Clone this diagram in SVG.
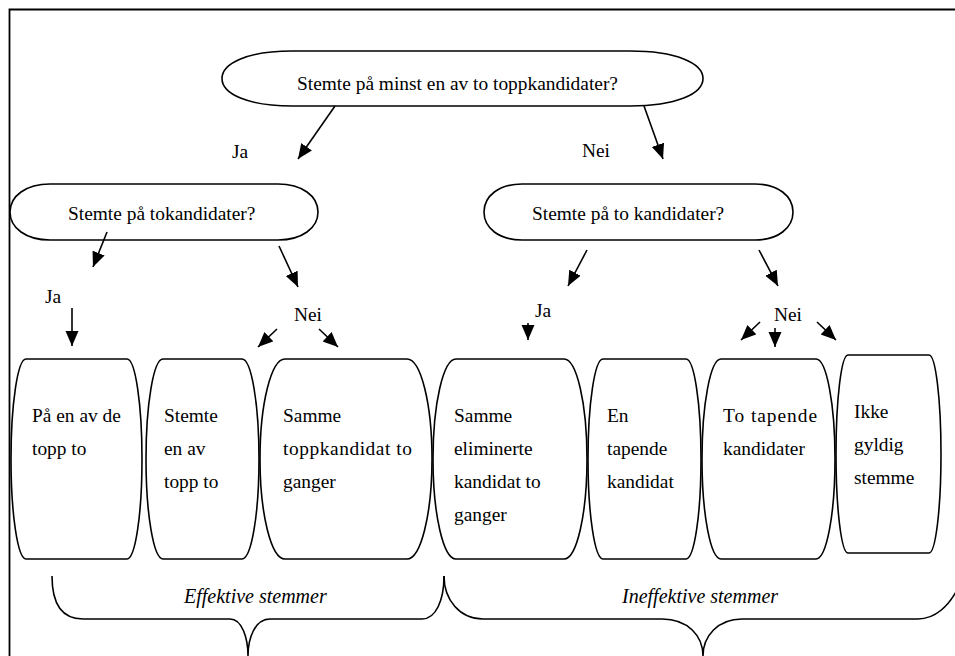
<svg xmlns="http://www.w3.org/2000/svg" width="955" height="656" viewBox="0 0 955 656">
<defs>
<marker id="ah" markerUnits="userSpaceOnUse" markerWidth="16" markerHeight="14" refX="15" refY="6.5" orient="auto">
<path d="M0,0 L15,6.5 L0,13 Z" fill="#000"/>
</marker>
<style>
text{font-family:"Liberation Serif","Times New Roman",serif;font-size:19.4px;fill:#000}
.it{font-style:italic;font-size:20px}
.shape{fill:#fff;stroke:#000;stroke-width:1.6}
.conn line{stroke:#000;stroke-width:1.6;marker-end:url(#ah)}
.brace{fill:none;stroke:#000;stroke-width:1.6}
</style>
</defs>
<rect width="955" height="656" fill="#fff"/>
<path d="M9.5,656 V9.5 H955" fill="none" stroke="#000" stroke-width="1.8"/>

<g id="q1">
<path class="shape" d="M292,51 H630 C676,51 703,63 703,78.5 C703,94 676,106 630,106 H292 C248,106 222,94 222,78.5 C222,63 248,51 292,51 Z"/>
<text x="297" y="90">Stemte på minst en av to toppkandidater?</text>
</g>
<g id="q2">
<path class="shape" d="M50,184 H278 C302,184 318,196 318,212 C318,228 302,240 278,240 H50 C26,240 10,228 10,212 C10,196 26,184 50,184 Z"/>
<text x="68" y="220">Stemte på tokandidater?</text>
</g>
<g id="q3">
<path class="shape" d="M522,184 H755 C778,184 793,196 793,212 C793,228 778,240 755,240 H522 C499,240 484,228 484,212 C484,196 499,184 522,184 Z"/>
<text x="532" y="220">Stemte på to kandidater?</text>
</g>

<g id="labels">
<text x="232" y="158">Ja</text>
<text x="582" y="157">Nei</text>
<text x="45" y="303">Ja</text>
<text x="294" y="321">Nei</text>
<text x="535" y="317">Ja</text>
<text x="774" y="321">Nei</text>
</g>

<g id="b1">
<rect class="shape" x="11" y="359" width="131" height="200" rx="15" ry="100"/>
<text x="32" y="422">På en av de</text>
<text x="32" y="455">topp to</text>
</g>
<g id="b2">
<rect class="shape" x="146" y="359" width="113" height="200" rx="17" ry="100"/>
<text x="164" y="422">Stemte</text>
<text x="164" y="455">en av</text>
<text x="164" y="488">topp to</text>
</g>
<g id="b3">
<rect class="shape" x="260" y="359" width="172" height="200" rx="25" ry="100"/>
<text x="283" y="422">Samme</text>
<text x="283" y="455" textLength="129" lengthAdjust="spacing">toppkandidat  to</text>
<text x="283" y="488">ganger</text>
</g>
<g id="b4">
<rect class="shape" x="433" y="359" width="154" height="200" rx="23" ry="100"/>
<text x="454" y="422">Samme</text>
<text x="454" y="455">eliminerte</text>
<text x="454" y="488">kandidat to</text>
<text x="454" y="521">ganger</text>
</g>
<g id="b5">
<rect class="shape" x="588" y="359" width="113" height="200" rx="15" ry="100"/>
<text x="607" y="422">En</text>
<text x="607" y="455">tapende</text>
<text x="607" y="488">kandidat</text>
</g>
<g id="b6">
<rect class="shape" x="702" y="359" width="133" height="200" rx="19" ry="100"/>
<text x="723" y="422" textLength="94" lengthAdjust="spacing">To  tapende</text>
<text x="723" y="455">kandidater</text>
</g>
<g id="b7">
<rect class="shape" x="836" y="355" width="105" height="198" rx="12" ry="99"/>
<text x="854" y="418">Ikke</text>
<text x="854" y="451">gyldig</text>
<text x="854" y="484">stemme</text>
</g>

<g id="connectors" class="conn">
<line x1="335" y1="106" x2="298" y2="159"/>
<line x1="644" y1="106" x2="663" y2="159"/>
<line x1="107" y1="232" x2="93" y2="267"/>
<line x1="279" y1="246" x2="298" y2="287"/>
<line x1="72" y1="308" x2="72" y2="346"/>
<line x1="277" y1="329" x2="258" y2="347"/>
<line x1="319" y1="329" x2="338" y2="347"/>
<line x1="587" y1="250" x2="568" y2="286"/>
<line x1="759" y1="250" x2="778" y2="286"/>
<line x1="528" y1="323" x2="528" y2="340"/>
<line x1="760" y1="322" x2="741" y2="340"/>
<line x1="775" y1="328" x2="775" y2="347"/>
<line x1="817" y1="322" x2="836" y2="340"/>
</g>

<g id="brace-effektive">
<path class="brace" d="M52,576 C52,605 62,619 83,619 H230 C242,619 248,638 248,656 M248,656 C248,638 255,619 270,619 H422 C436,619 444,600 444,576"/>
<text class="it" x="184" y="603">Effektive stemmer</text>
</g>
<g id="brace-ineffektive">
<path class="brace" d="M444,576 C444,600 460,619 483,619 H662 C688,619 703,636 703,656 M703,656 C703,636 718,619 742,619 H918 C935,619 949,606 958,588"/>
<text class="it" x="622" y="603">Ineffektive stemmer</text>
</g>
</svg>
